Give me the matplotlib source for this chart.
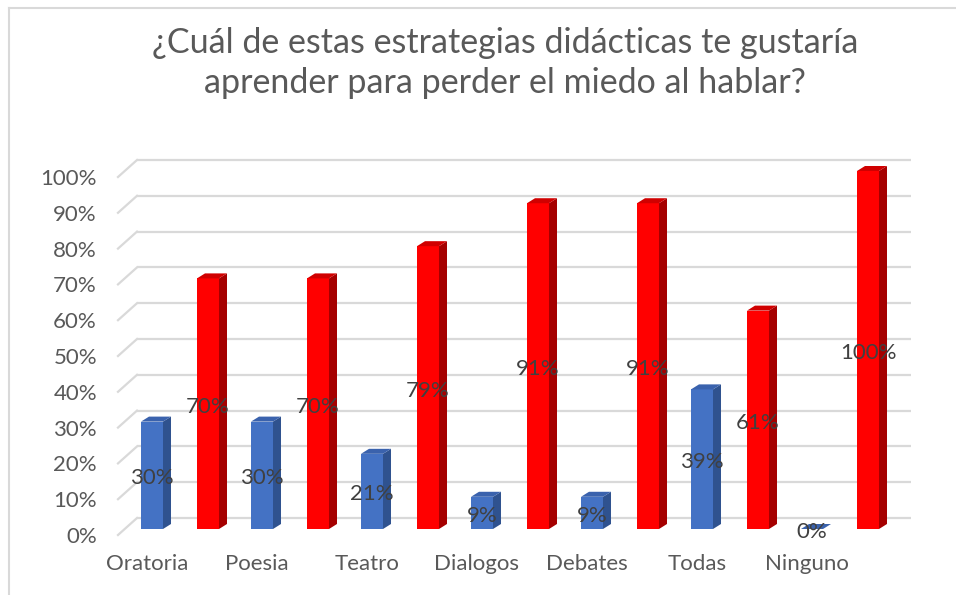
import matplotlib.pyplot as plt
from matplotlib.patches import Polygon
from matplotlib.lines import Line2D

categorias = ["Oratoria", "Poesia", "Teatro", "Dialogos", "Debates", "Todas", "Ninguno"]
serie_azul = [30, 30, 21, 9, 9, 39, 0]
serie_roja = [70, 70, 79, 91, 91, 61, 100]
ticks_y = [0, 10, 20, 30, 40, 50, 60, 70, 80, 90, 100]
titulo = ["¿Cuál de estas estrategias didácticas te gustaría",
          "aprender para perder el miedo al hablar?"]

W, H = 956, 595
fig = plt.figure(figsize=(W / 100, H / 100), dpi=100)
fig.patch.set_facecolor("white")

# axes = plano frontal de las barras
ax_l, ax_r, ax_b, ax_t = 125, 895, 66, 424
ax = fig.add_axes([ax_l / W, ax_b / H, (ax_r - ax_l) / W, (ax_t - ax_b) / H])
ax.set_xlim(-0.5, 6.5)
ax.set_ylim(0, 100)
ax.axis("off")

px_x = 7.0 / (ax_r - ax_l)      # unidades x por pixel
px_y = 100.0 / (ax_t - ax_b)    # unidades y por pixel

fuente = "Lato"
gris = "#D9D9D9"

# rejilla (plano trasero) + diagonales izquierdas
bx, by = 12 * px_x, 11 * px_y
fx, fy = -7 * px_x, -6 * px_y
for v in ticks_y:
    ax.plot([-0.5 + bx, 6.54 + bx], [v + by, v + by], color=gris, lw=1.6,
            clip_on=False, zorder=1, solid_capstyle="butt")
    ax.plot([-0.5 + fx, -0.5 + bx], [v + fy, v + by], color=gris, lw=1.6,
            clip_on=False, zorder=1)
    ax.text(-0.5 + fx - 21 * px_x, v + fy - 2 * px_y, f"{v}%", ha="right", va="center",
            fontsize=16, color="#595959", family=fuente)

# barras pseudo-3D
ancho = 0.2
dx, dy = 8 * px_x, 5 * px_y


def barra(x0, h, frente, lado, tapa):
    x1 = x0 + ancho
    if h > 0:
        ax.add_patch(Polygon([(x0, 0), (x1, 0), (x1, h), (x0, h)], closed=True,
                             facecolor=frente, edgecolor="none", zorder=3, clip_on=False))
        ax.add_patch(Polygon([(x1, 0), (x1 + dx, dy), (x1 + dx, h + dy), (x1, h)], closed=True,
                             facecolor=lado, edgecolor="none", zorder=3, clip_on=False))
    ax.add_patch(Polygon([(x0, h), (x1, h), (x1 + dx, h + dy), (x0 + dx, h + dy)], closed=True,
                         facecolor=tapa, edgecolor="none", zorder=3, clip_on=False))


for i in range(len(categorias)):
    xa = i - 0.2545 - ancho / 2
    xr = i + 0.2545 - ancho / 2
    barra(xa, serie_azul[i], "#4472C4", "#2F528F", "#3A62AD")
    barra(xr, serie_roja[i], "#FF0000", "#A50000", "#D00000")
    ax.text(i - 0.2545, serie_azul[i] / 2 - 3 * px_y, f"{serie_azul[i]}%", ha="center",
            va="center", fontsize=16, color="#404040", family=fuente, zorder=5)
    ax.text(i + 0.2545, serie_roja[i] / 2 - 3 * px_y, f"{serie_roja[i]}%", ha="center",
            va="center", fontsize=16, color="#404040", family=fuente, zorder=5)
    ax.text(i - 33 * px_x, -35 * px_y, categorias[i], ha="center", va="center",
            fontsize=16, color="#595959", family=fuente)

# titulo
fig.text(505 / W, 1 - 43 / H, titulo[0], ha="center", va="center", fontsize=24.5,
         color="#595959", family=fuente)
fig.text(505 / W, 1 - 83 / H, titulo[1], ha="center", va="center", fontsize=24.5,
         color="#595959", family=fuente)

# borde del grafico
fig.add_artist(Line2D([9 / W, 9 / W], [0, 1 - 8 / H], color=gris, lw=1.5))
fig.add_artist(Line2D([9 / W, 1], [1 - 8 / H, 1 - 8 / H], color=gris, lw=1.5))

fig.savefig("out.png", dpi=100)
